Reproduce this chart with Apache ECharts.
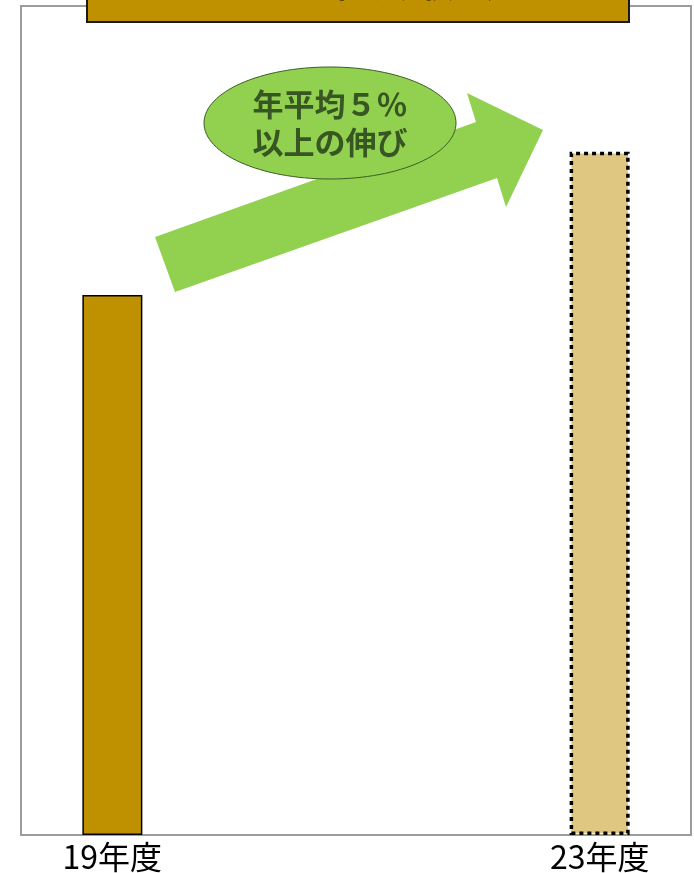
<!DOCTYPE html>
<html>
<head>
<meta charset="utf-8">
<script src="https://cdn.jsdelivr.net/npm/echarts@6/dist/echarts.min.js"></script>
<style>
  html, body { margin: 0; padding: 0; background: #ffffff; }
  #chart { width: 694px; height: 873px; }
</style>
</head>
<body>
<div id="chart"></div>
<script>
// Fiscal years shown on the horizontal axis
const years = [19, 23];
const yearLabels = ['19年度', '23年度'];
// Market size index (FY19 = 100)
const actualValues = [100, null];
const forecastValues = [null, 126.5];
// Annotation text
const growthNote = ['年平均５％', '以上の伸び'];
const titleText = 'ソフトウェア市場規模の見通し';

const chart = echarts.init(document.getElementById('chart'));

const FONT = '"Noto Sans CJK JP", "Noto Sans", sans-serif';

chart.setOption({
  animation: false,
  backgroundColor: '#ffffff',
  grid: {
    left: 21, right: 3, top: 6, bottom: 38,
    show: true,
    borderColor: '#9c9c9c',
    borderWidth: 2,
    backgroundColor: '#ffffff'
  },
  xAxis: {
    type: 'value',
    min: 18.25,
    max: 23.75,
    axisLine: { show: false },
    axisTick: { show: false },
    splitLine: { show: false },
    axisLabel: {
      customValues: years,
      margin: 6,
      fontSize: 32,
      color: '#000000',
      fontFamily: FONT,
      formatter: v => yearLabels[years.indexOf(v)] || ''
    }
  },
  yAxis: {
    type: 'value',
    min: 0,
    max: 153.5,
    show: false,
    splitLine: { show: false }
  },
  series: [
    {
      type: 'bar',
      barWidth: 60,
      barGap: '-100%',
      data: years.map((y, i) => [y, actualValues[i]]),
      itemStyle: { color: '#BF9000', borderColor: '#000000', borderWidth: 1.5 }
    },
    {
      type: 'bar',
      barWidth: 60,
      barGap: '-100%',
      data: years.map((y, i) => [y, forecastValues[i]]),
      itemStyle: {
        color: '#E0C781',
        borderColor: '#000000',
        borderWidth: 3.5,
        borderType: [4, 4]
      }
    }
  ],
  graphic: [
    // growth arrow
    {
      type: 'polygon',
      z: 100,
      shape: {
        points: [
          [155, 237], [476, 122], [467, 93], [543, 130],
          [506, 207], [497, 178], [175, 292]
        ]
      },
      style: { fill: '#92D050' }
    },
    // growth bubble
    {
      type: 'ellipse',
      z: 101,
      shape: { cx: 330, cy: 123, rx: 126, ry: 56 },
      style: { fill: '#92D050', stroke: '#3B5E22', lineWidth: 1 }
    },
    {
      type: 'text',
      z: 102,
      x: 330, y: 104,
      style: {
        text: growthNote[0],
        fontSize: 31, fontWeight: 'bold', fontFamily: FONT,
        fill: '#375623', align: 'center', verticalAlign: 'middle'
      }
    },
    {
      type: 'text',
      z: 102,
      x: 330, y: 142,
      style: {
        text: growthNote[1],
        fontSize: 31, fontWeight: 'bold', fontFamily: FONT,
        fill: '#375623', align: 'center', verticalAlign: 'middle'
      }
    },
    // title box along the top edge
    {
      type: 'rect',
      z: 103,
      shape: { x: 87, y: -50, width: 542, height: 72 },
      style: { fill: '#BF9000', stroke: '#1a1a1a', lineWidth: 2 }
    },
    {
      type: 'text',
      z: 104,
      x: 358, y: -15,
      style: {
        text: titleText,
        fontSize: 32, fontWeight: 'bold', fontFamily: FONT,
        fill: '#000000', align: 'center', verticalAlign: 'middle'
      }
    }
  ]
});
</script>
</body>
</html>
